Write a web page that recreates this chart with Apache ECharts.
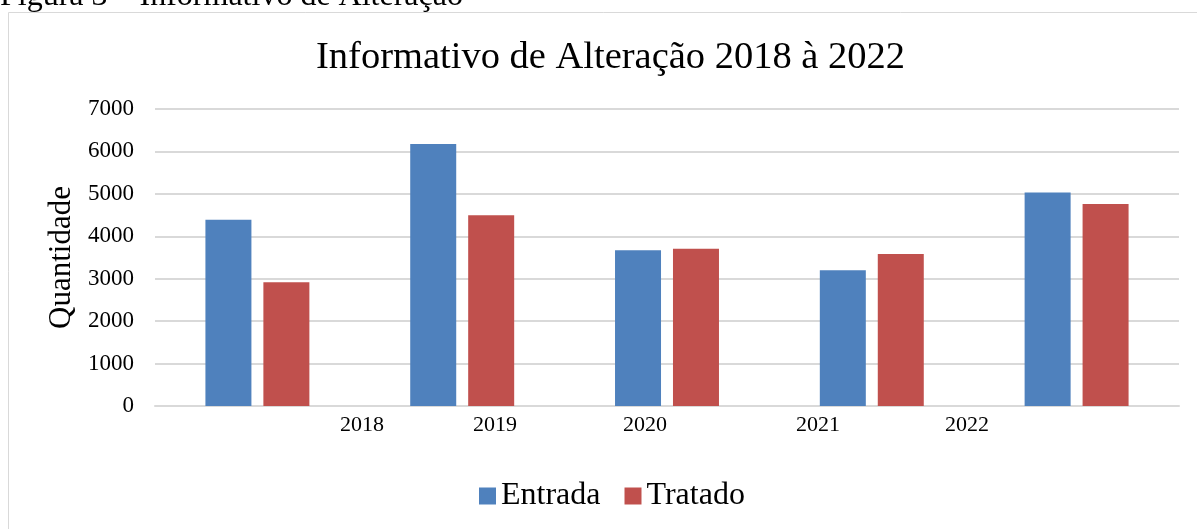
<!DOCTYPE html>
<html>
<head>
<meta charset="utf-8">
<script src="https://cdn.jsdelivr.net/npm/echarts@6/dist/echarts.min.js"></script>
<style>
    html, body { margin: 0; padding: 0; background: #fff; }
    #chartContainer { width: 1197px; height: 529px; }
</style>
</head>
<body>
<div id="chartContainer"></div>
<script>
// dados
var anos = ['2018', '2019', '2020', '2021', '2022'];
var entrada = [4390, 6175, 3670, 3200, 5030];
var tratado = [2915, 4495, 3705, 3585, 4760];
var rotulosX = ['2018', '2019', '2020', '2021', '2022'];

// posição dos rótulos do eixo x (desalinhados no original)
var posRotulos = [362, 495, 645, 818, 967];
var fonte = '"Liberation Serif", "Times New Roman", serif';

var myChart = echarts.init(document.getElementById('chartContainer'));

var textos = [];
for (var i = 0; i < rotulosX.length; i++) {
    textos.push({
        type: 'text',
        x: posRotulos[i],
        y: 425,
        style: { text: rotulosX[i], font: '22px ' + fonte, fill: '#000', align: 'center', verticalAlign: 'middle' }
    });
}
textos.push({
    type: 'rect',
    shape: { x: 8.5, y: 12.5, width: 1200, height: 540 },
    style: { fill: 'none', stroke: '#d9d9d9', lineWidth: 1 },
    z: -1
});
textos.push({
    type: 'text',
    left: 0,
    top: -19,
    style: { text: 'Figura 3 – Informativo de Alteração', font: '32px ' + fonte, fill: '#000' }
});

var option = {
    animation: false,
    title: {
        text: 'Informativo de Alteração 2018 à 2022',
        left: 311,
        top: 33,
        textStyle: { fontFamily: fonte, fontWeight: 'normal', fontSize: 38.5, color: '#000' }
    },
    legend: {
        bottom: 12,
        left: 474,
        icon: 'rect',
        itemWidth: 17,
        itemHeight: 17,
        itemGap: 24,
        textStyle: { fontFamily: fonte, fontSize: 32, color: '#000' },
        data: ['Entrada', 'Tratado']
    },
    grid: { left: 155, right: 18, top: 109, bottom: 123 },
    xAxis: {
        type: 'category',
        data: anos,
        axisLine: { lineStyle: { color: '#d9d9d9', width: 2 } },
        axisTick: { show: false },
        axisLabel: { show: false }
    },
    yAxis: {
        type: 'value',
        min: 0,
        max: 7000,
        interval: 1000,
        name: 'Quantidade',
        nameLocation: 'middle',
        nameGap: 74,
        nameTextStyle: { fontFamily: fonte, fontSize: 31, color: '#000' },
        axisLine: { show: false },
        axisTick: { show: false },
        axisLabel: {
            fontFamily: fonte, fontSize: 23, color: '#000', margin: 21,
            formatter: function (v) { return String(v); }
        },
        splitLine: { lineStyle: { color: '#d9d9d9', width: 2 } }
    },
    series: [{
        name: 'Entrada',
        type: 'bar',
        barWidth: 46,
        barGap: '26%',
        itemStyle: { color: '#4f81bd' },
        data: entrada
    }, {
        name: 'Tratado',
        type: 'bar',
        barWidth: 46,
        itemStyle: { color: '#c0504d' },
        data: tratado
    }],
    graphic: textos
};
myChart.setOption(option);
</script>
</body>
</html>
